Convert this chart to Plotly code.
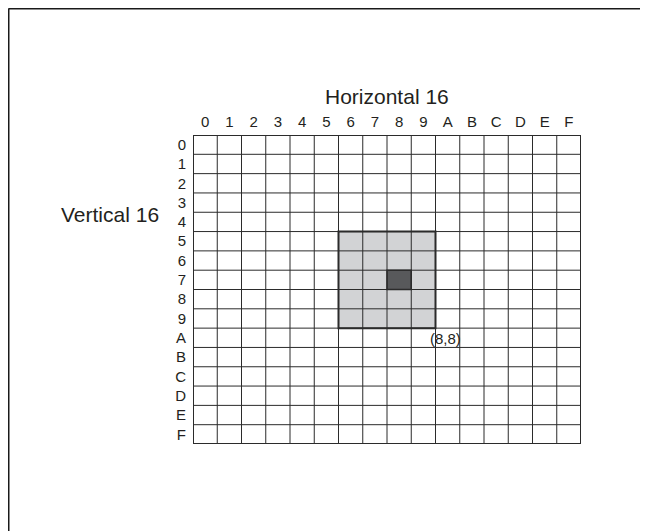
import plotly.graph_objects as go

# ---- data ----
col_labels = ["0", "1", "2", "3", "4", "5", "6", "7", "8", "9", "A", "B", "C", "D", "E", "F"]
row_labels = ["0", "1", "2", "3", "4", "5", "6", "7", "8", "9", "A", "B", "C", "D", "E", "F"]
block_cols = [6, 9]      # first/last column of the shaded block
block_rows = [5, 9]      # first/last row of the shaded block
center_cell = [8, 7]     # (column, row) of the dark cell
corner_label = "(8,8)"
h_title = "Horizontal 16"
v_title = "Vertical 16"

OFF = 8  # page body margin
W, H = 648 - OFF, 531 - OFF
L, T = 193 - OFF, 135 - OFF
R = W - (581 - OFF)
B = H - (444 - OFF)
ncol, nrow = len(col_labels), len(row_labels)
FONT = "Liberation Sans, Arial, Helvetica, sans-serif"
TXT = "#231f20"
LINE = "#2b2b2b"

fig = go.Figure()
fig.add_trace(go.Scatter(x=[0, ncol], y=[0, nrow], mode="markers",
                         marker=dict(opacity=0), hoverinfo="skip", showlegend=False))

shapes = []
shapes.append(dict(type="rect", xref="x", yref="y",
                   x0=block_cols[0], x1=block_cols[1] + 1,
                   y0=block_rows[0], y1=block_rows[1] + 1,
                   fillcolor="#d2d3d5", line=dict(width=0), layer="below"))
shapes.append(dict(type="rect", xref="x", yref="y",
                   x0=center_cell[0], x1=center_cell[0] + 1,
                   y0=center_cell[1], y1=center_cell[1] + 1,
                   fillcolor="#58595b", line=dict(width=0), layer="below"))
for i in range(ncol + 1):
    shapes.append(dict(type="line", xref="x", yref="y", x0=i, x1=i, y0=0, y1=nrow,
                       line=dict(color=LINE, width=1)))
for j in range(nrow + 1):
    shapes.append(dict(type="line", xref="x", yref="y", x0=0, x1=ncol, y0=j, y1=j,
                       line=dict(color=LINE, width=1)))
shapes.append(dict(type="rect", xref="x", yref="y", x0=0, x1=ncol, y0=0, y1=nrow,
                   line=dict(color=LINE, width=2)))
shapes.append(dict(type="rect", xref="x", yref="y",
                   x0=block_cols[0], x1=block_cols[1] + 1,
                   y0=block_rows[0], y1=block_rows[1] + 1,
                   line=dict(color=LINE, width=2)))
shapes.append(dict(type="rect", xref="x", yref="y",
                   x0=center_cell[0], x1=center_cell[0] + 1,
                   y0=center_cell[1], y1=center_cell[1] + 1,
                   line=dict(color=LINE, width=1.5)))

# page frame (top and left edges only)
pw, ph = W - L - R, H - T - B
fx0 = -(L - 0.5) / pw
fy_top = 1 + (T - 0.5) / ph
shapes.append(dict(type="line", xref="paper", yref="paper",
                   x0=fx0, x1=1 + (R + 10) / pw, y0=fy_top, y1=fy_top,
                   line=dict(color="#1a1a1a", width=2)))
shapes.append(dict(type="line", xref="paper", yref="paper",
                   x0=fx0, x1=fx0, y0=fy_top, y1=-(B + 10) / ph,
                   line=dict(color="#1a1a1a", width=2)))

annotations = [
    dict(text=h_title, xref="x", yref="paper", x=ncol / 2, y=1 + (135 - 96) / ph,
         showarrow=False, font=dict(size=21, color=TXT, family=FONT),
         xanchor="center", yanchor="middle"),
    dict(text=v_title, xref="paper", yref="y", x=-(193 - 59) / pw, y=4.1,
         showarrow=False, font=dict(size=21, color=TXT, family=FONT),
         xanchor="left", yanchor="middle"),
    dict(text=corner_label, xref="x", yref="y", x=block_cols[1] + 1.4, y=block_rows[1] + 1.55,
         showarrow=False, font=dict(size=15, color=TXT, family=FONT),
         xanchor="center", yanchor="middle"),
]

fig.update_layout(
    width=W, height=H,
    margin=dict(l=L, r=R, t=T, b=B, pad=0),
    paper_bgcolor="white", plot_bgcolor="white",
    shapes=shapes, annotations=annotations,
    showlegend=False,
    font=dict(family=FONT, color=TXT, size=15),
    xaxis=dict(range=[0, ncol], side="top", showgrid=False, zeroline=False,
               showline=False, ticks="", fixedrange=True, ticklabelstandoff=4,
               tickvals=[i + 0.5 for i in range(ncol)], ticktext=col_labels,
               tickfont=dict(size=15, color=TXT, family=FONT)),
    yaxis=dict(range=[nrow, 0], showgrid=False, zeroline=False,
               showline=False, ticks="", fixedrange=True, ticklabelstandoff=6,
               tickvals=[j + 0.5 for j in range(nrow)], ticktext=row_labels,
               tickfont=dict(size=15, color=TXT, family=FONT)),
)

fig.write_html("out.html")
